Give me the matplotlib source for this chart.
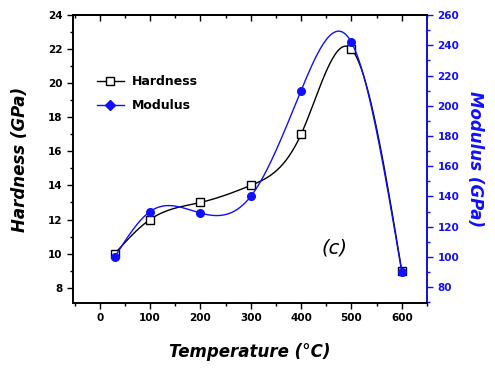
import numpy as np
import matplotlib
matplotlib.use("Agg")
import matplotlib.pyplot as plt


# ========================
# Datos
# ========================

temperatura = [30, 100, 200, 300, 400, 500, 600]
dureza = [10, 12, 13, 14, 17, 22, 9]
modulo = [100, 130, 129, 140, 210, 242, 90]


def spline_natural(x, y, n=400):
    """Spline cúbico natural (para dibujar la curva suave, estilo Origin)."""
    x = np.asarray(x, float)
    y = np.asarray(y, float)
    m = len(x)
    h = np.diff(x)
    A = np.zeros((m, m))
    r = np.zeros(m)
    A[0, 0] = A[-1, -1] = 1
    for i in range(1, m - 1):
        A[i, i - 1] = h[i - 1]
        A[i, i] = 2 * (h[i - 1] + h[i])
        A[i, i + 1] = h[i]
        r[i] = 6 * ((y[i + 1] - y[i]) / h[i] - (y[i] - y[i - 1]) / h[i - 1])
    M = np.linalg.solve(A, r)
    xs = np.linspace(x[0], x[-1], n)
    k = np.clip(np.searchsorted(x, xs) - 1, 0, m - 2)
    t0 = x[k + 1] - xs
    t1 = xs - x[k]
    hk = h[k]
    ys = (M[k] * t0 ** 3 + M[k + 1] * t1 ** 3) / (6 * hk) \
        + (y[k] / hk - M[k] * hk / 6) * t0 + (y[k + 1] / hk - M[k + 1] * hk / 6) * t1
    return xs, ys


fig = plt.figure(figsize=(4.95, 3.72), dpi=100)
ax = fig.add_axes([0.1475, 0.1855, 0.715, 0.774])
ax2 = ax.twinx()

azul = "#1010ff"

xs, ys = spline_natural(temperatura, dureza)
ax.plot(xs, ys, color="black", lw=1.0)
ax.plot(temperatura, dureza, "s", mfc="white", mec="black", ms=5.5, mew=1.0)

xs2, ys2 = spline_natural(temperatura, modulo)
ax2.plot(xs2, ys2, color=azul, lw=1.0)
ax2.plot(temperatura, modulo, "o", color=azul, ms=5.5)

# leyenda con los mismos estilos
ax.plot([], [], "-s", color="black", mfc="white", ms=6, lw=1.0, label="Hardness")
ax.plot([], [], "-D", color=azul, ms=5, lw=1.0, label="Modulus")
h1, l1 = ax.get_legend_handles_labels()
ax.legend(h1, l1, loc="upper left", bbox_to_anchor=(0.035, 0.83), frameon=False,
          prop={"weight": "bold", "size": 9}, handlelength=2.2, labelspacing=0.85,
          handletextpad=0.6)

ax.set_xlim(-53, 648)
ax.set_ylim(7.1, 24)
ax2.set_ylim(69.5, 260)

ax.set_xticks(range(0, 601, 100))
ax.set_xticks(range(-50, 651, 50), minor=True)
ax.set_yticks(range(8, 25, 2))
ax.set_yticks(range(8, 25, 1), minor=True)
ax2.set_yticks(range(80, 261, 20))
ax2.set_yticks(range(70, 261, 10), minor=True)

ax.tick_params(axis="both", which="both", direction="out", labelsize=7.5, width=1.0)
ax.tick_params(which="major", length=4)
ax.tick_params(which="minor", length=2.5)
ax2.tick_params(axis="y", which="both", direction="out", colors=azul, labelsize=7.5, width=1.0)
ax2.tick_params(which="major", length=4)
ax2.tick_params(which="minor", length=2.5)
for lab in ax.get_xticklabels() + ax.get_yticklabels() + ax2.get_yticklabels():
    lab.set_fontweight("bold")

# marcas superiores hacia adentro
arriba = ax.secondary_xaxis("top")
arriba.set_xticks(range(0, 601, 100))
arriba.set_xticks(range(-50, 651, 50), minor=True)
arriba.tick_params(which="both", direction="in", labeltop=False, width=1.0)
arriba.tick_params(which="major", length=4)
arriba.tick_params(which="minor", length=2.5)
arriba.spines["top"].set_linewidth(1.2)

for s in ax.spines.values():
    s.set_linewidth(1.2)
for s in ax2.spines.values():
    s.set_linewidth(1.2)
ax2.spines["right"].set_color(azul)

ax.set_xlabel("Temperature (°C)", fontsize=12, fontweight="bold", style="italic", labelpad=14)
ax.set_ylabel("Hardness (GPa)", fontsize=12, fontweight="bold", style="italic", labelpad=14)
ax2.set_ylabel("Modulus (GPa)", fontsize=12, fontweight="bold", style="italic",
               color=azul, rotation=270, labelpad=18)

ax.text(466, 10.3, "(c)", fontsize=14, style="italic", fontweight="light", ha="center", va="center")

fig.savefig("out.png", dpi=100)
